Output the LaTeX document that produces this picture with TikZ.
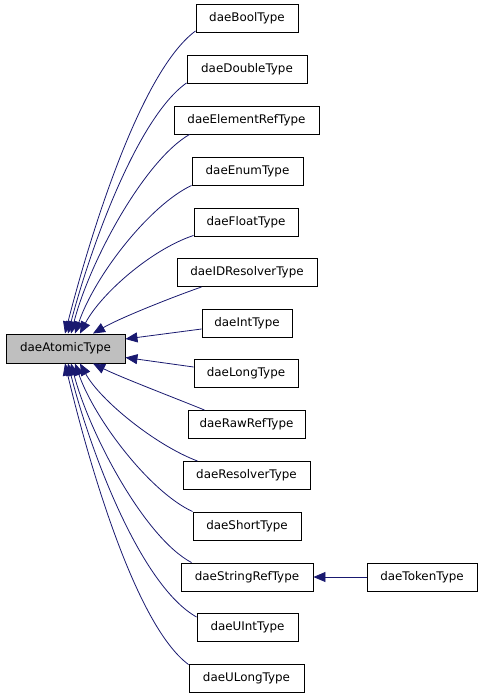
\documentclass[tikz,border=0pt]{standalone}
\usepackage{fontspec}
\setmainfont{DejaVu Sans}
\usetikzlibrary{arrows.meta,calc}
\definecolor{edgeblue}{HTML}{191970}
\definecolor{atomgray}{HTML}{BFBFBF}
\begin{document}
\begin{tikzpicture}[x=1pt,y=-1pt,
  cls/.style={draw=black,line width=0.9pt,fill=white,rectangle,minimum height=28pt,inner sep=0pt,
    font=\fontsize{11.9}{13}\selectfont},
  edge/.style={draw=edgeblue,line width=0.8pt,-{Triangle[length=12pt,width=10pt]}}]
\fill[white] (0,0) rectangle (483,696);
\useasboundingbox (0,0) rectangle (483,696);

\node[cls,fill=atomgray,minimum width=119pt,minimum height=29pt] (atomic) at (65.5,348.5) {daeAtomicType};
\node[cls,minimum width=102pt] (bool) at (247,18.5) {daeBoolType};
\node[cls,minimum width=120pt] (double) at (247,69.5) {daeDoubleType};
\node[cls,minimum width=145pt] (elemref) at (246.5,120) {daeElementRefType};
\node[cls,minimum width=111pt] (enum) at (247.5,171) {daeEnumType};
\node[cls,minimum width=104pt] (float) at (246,222) {daeFloatType};
\node[cls,minimum width=140pt] (idres) at (247,272.5) {daeIDResolverType};
\node[cls,minimum width=90pt] (int) at (247,323) {daeIntType};
\node[cls,minimum width=104pt] (long) at (246,373) {daeLongType};
\node[cls,minimum width=117pt] (rawref) at (246.5,424.5) {daeRawRefType};
\node[cls,minimum width=127pt] (resolver) at (246.5,475.5) {daeResolverType};
\node[cls,minimum width=108pt] (short) at (247,526) {daeShortType};
\node[cls,minimum width=132pt] (stringref) at (247,577) {daeStringRefType};
\node[cls,minimum width=101pt] (uint) at (247.5,627) {daeUIntType};
\node[cls,minimum width=115pt] (ulong) at (246.5,678) {daeULongType};
\node[cls,minimum width=110pt] (token) at (422,577) {daeTokenType};

\draw[edge] ($(bool.south west)+(0,-2)$) .. controls (140,72) and (90,236) .. ($(atomic.north)+(-0.5,0)$);
\draw[edge] ($(double.south west)+(0,-1)$) .. controls (137,118) and (90,249) .. ($(atomic.north)+(2.5,0)$);
\draw[edge] ($(elemref.south west)+(16,0)$) .. controls (145,160) and (90,260) .. ($(atomic.north)+(5.5,0)$);
\draw[edge] (enum.south west) .. controls (150,205) and (95,275) .. ($(atomic.north)+(9.5,0)$);
\draw[edge] ($(float.south west)+(0,-1)$) .. controls (150,250) and (100,295) .. ($(atomic.north)+(14.5,0)$);
\draw[edge] ($(idres.south west)+(25,0)$) .. controls (170,298) and (120,318) .. ($(atomic.north)+(27.5,0)$);
\draw[edge] ($(int.west)+(0,6)$) -- ($(atomic.east)+(0,-9.5)$);
\draw[edge] ($(long.west)+(0,-6)$) -- ($(atomic.east)+(0,9)$);
\draw[edge] ($(rawref.north west)+(17,0)$) .. controls (175,398) and (120,377) .. ($(atomic.south)+(27.5,0)$);
\draw[edge] ($(resolver.north west)+(15,0)$) .. controls (155,445) and (100,400) .. ($(atomic.south)+(14.5,0)$);
\draw[edge] (short.north west) .. controls (150,492) and (95,420) .. ($(atomic.south)+(9.5,0)$);
\draw[edge] ($(stringref.north west)+(11,0)$) .. controls (145,538) and (90,435) .. ($(atomic.south)+(5.5,0)$);
\draw[edge] ($(uint.west)+(0,-10)$) .. controls (140,585) and (90,450) .. ($(atomic.south)+(2.5,0)$);
\draw[edge] ($(ulong.north west)+(0,1)$) .. controls (135,625) and (88,460) .. ($(atomic.south)+(-0.5,0)$);
\draw[edge] (token.west) -- (stringref.east);
\end{tikzpicture}
\end{document}
